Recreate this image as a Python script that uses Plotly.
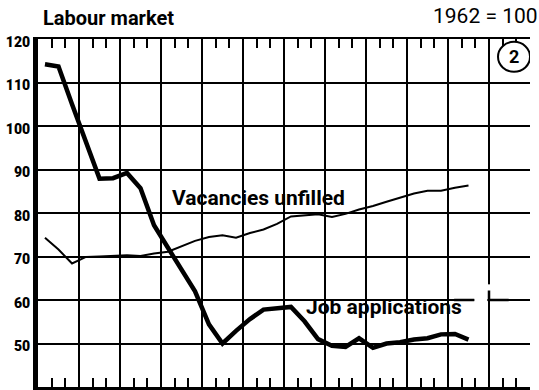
import plotly.graph_objects as go

# Period positions (one grid cell = one year, three readings per year)
periods = [0.17, 0.5, 0.83, 1.17, 1.5, 1.83, 2.17, 2.5, 2.83, 3.17, 3.5, 3.83,
           4.17, 4.5, 4.83, 5.17, 5.5, 5.83, 6.17, 6.5, 6.83, 7.17, 7.5, 7.83,
           8.17, 8.5, 8.83, 9.17, 9.5, 9.83, 10.17, 10.5]

# Index values, 1962 = 100
job_applications = [114.2, 113.7, 105.0, 96.1, 87.9, 88.0, 89.2, 85.7, 77.2, 72.0,
                    66.8, 62.0, 54.4, 50.0, 52.9, 55.6, 57.8, 58.0, 58.4, 55.1,
                    51.0, 49.5, 49.2, 51.2, 49.0, 50.0, 50.3, 50.9, 51.2, 52.1,
                    52.2, 50.9]
vacancies_unfilled = [74.3, 71.6, 68.4, 69.9, 70.0, 70.1, 70.3, 70.1, 70.7, 71.1,
                      72.4, 73.6, 74.5, 74.9, 74.3, 75.4, 76.2, 77.5, 79.2, 79.5,
                      79.7, 79.1, 79.8, 80.8, 81.6, 82.6, 83.6, 84.5, 85.1, 85.1,
                      85.8, 86.3]

y_ticks = [40, 50, 60, 70, 80, 90, 100, 110, 120]
year_lines = list(range(0, 12))
third_ticks = [i / 3 for i in range(0, 37) if i % 3 != 0]

X_RANGE = [0, 12]
Y_RANGE = [40, 120]
FONT = "Roboto"

fig = go.Figure()

fig.add_trace(go.Scatter(
    x=periods, y=vacancies_unfilled, mode="lines",
    line=dict(color="black", width=2), hoverinfo="skip", showlegend=False,
))
fig.add_trace(go.Scatter(
    x=periods, y=job_applications, mode="lines",
    line=dict(color="black", width=4.5), hoverinfo="skip", showlegend=False,
))
# invisible trace so the top axis (mirror ticks) is drawn
fig.add_trace(go.Scatter(
    x=[None], y=[None], xaxis="x2", mode="lines", hoverinfo="skip", showlegend=False,
))

# small break in the 60 grid line after the "Job applications" label
label_break = [
    dict(type="rect", xref="x", yref="y", x0=10.64, x1=10.96, y0=59.6, y1=60.4,
         line=dict(width=0), fillcolor="white", layer="above"),
    dict(type="rect", xref="x", yref="y", x0=10.94, x1=11.06, y0=60.6, y1=63.6,
         line=dict(width=0), fillcolor="white", layer="above"),
    dict(type="line", xref="x", yref="y", x0=10.15, x1=10.64, y0=60, y1=60,
         line=dict(color="black", width=2.5), layer="above"),
    dict(type="path", xref="x", yref="y", path="M 11,62.2 L 11,60 L 11.48,60",
         line=dict(color="black", width=2.5), layer="above"),
]

fig.update_layout(
    width=539, height=390,
    margin=dict(l=38, r=9, t=39, b=3),
    paper_bgcolor="white", plot_bgcolor="white",
    xaxis=dict(
        range=X_RANGE, tickmode="array", tickvals=year_lines,
        showticklabels=False, ticks="",
        showgrid=True, gridcolor="black", gridwidth=1.5,
        showline=True, linecolor="black", linewidth=5,
        zeroline=False,
        minor=dict(tickmode="array", tickvals=third_ticks, ticks="inside",
                   ticklen=9, tickwidth=1.5, tickcolor="black", showgrid=False),
    ),
    xaxis2=dict(
        range=X_RANGE, overlaying="x", side="top", anchor="y",
        tickmode="array", tickvals=third_ticks, ticks="inside", ticklen=9,
        tickwidth=1.5, tickcolor="black", showticklabels=False,
        showgrid=False, showline=True, linecolor="black", linewidth=2,
        zeroline=False,
    ),
    yaxis=dict(
        range=Y_RANGE, tickmode="array", tickvals=y_ticks,
        ticktext=[str(v) for v in y_ticks],
        showgrid=True, gridcolor="black", gridwidth=1.5,
        showline=True, linecolor="black", linewidth=5,
        ticks="", zeroline=False, ticklabelshift=3,
        tickfont=dict(family=FONT, size=14, color="black", weight=900),
    ),
    annotations=[
        dict(text="Labour market", xref="paper", yref="paper", x=0.144, y=1.06,
             xanchor="center", yanchor="middle", showarrow=False,
             font=dict(family=FONT, size=20, color="black", weight="bold")),
        dict(text="1962 = 100", xref="paper", yref="paper", x=0.91, y=1.066,
             xanchor="center", yanchor="middle", showarrow=False,
             font=dict(family=FONT, size=21, color="black")),
        dict(text="Vacancies unfilled", x=5.39, y=83.4, xanchor="center",
             yanchor="middle", showarrow=False,
             font=dict(family=FONT, size=21, color="black", weight="bold")),
        dict(text="Job applications", x=8.45, y=58.4, xanchor="center",
             yanchor="middle", showarrow=False,
             font=dict(family=FONT, size=21, color="black", weight="bold")),
        dict(text="2", x=11.61, y=115.9, xanchor="center", yanchor="middle",
             showarrow=False,
             font=dict(family=FONT, size=18, color="black", weight="bold")),
    ],
    shapes=[
        dict(type="circle", xref="x", yref="y", xsizemode="pixel", ysizemode="pixel",
             xanchor=11.61, yanchor=115.9, x0=-16, x1=16, y0=-15, y1=15,
             line=dict(color="black", width=2), fillcolor="white", layer="above"),
    ] + label_break,
)

fig.write_html("out.html")
